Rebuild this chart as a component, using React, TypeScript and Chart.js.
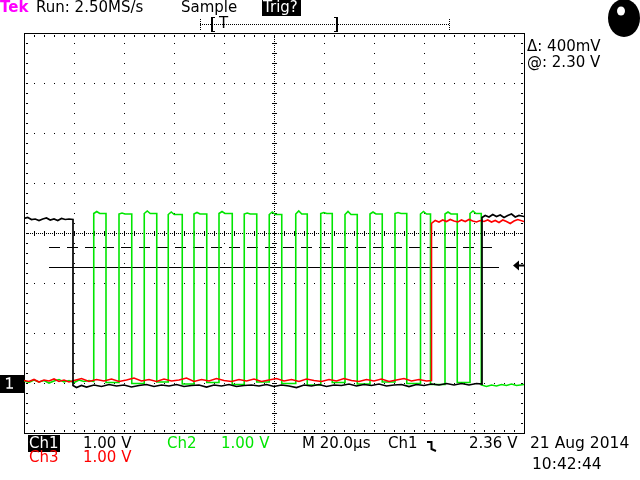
import React, { useEffect, useRef } from "react";
import { Chart, registerables } from "chart.js";
Chart.register(...registerables);

// Time axis in µs (20 µs/div, 10 div), voltage axis in V (1 V/div, 8 div)
const TIME_MIN = 0;
const TIME_MAX = 200;
const VOLT_MIN = -1;
const VOLT_MAX = 7;

const TRIGGER_LEVEL = 2.36;
const CURSOR_LEVELS = [2.3, 2.7];
const CURSOR_SPAN = [10, 190];

// Ch1 (black)
const CH1_TRACE: [number, number][] = [
  [0, 3.28], [1.5, 3.3], [3, 3.26], [4.5, 3.27], [6, 3.24], [7.5, 3.27], [9, 3.29], [10.5, 3.25],
  [12, 3.27], [13.5, 3.24], [15, 3.28], [16.5, 3.26], [18, 3.27], [19.6, 3.26],
  [19.6, -0.06], [21, -0.1], [23, -0.06], [25, -0.09], [28, -0.05], [31, -0.08], [34, -0.04],
  [37, -0.07], [40, -0.05], [43, -0.09], [46, -0.06], [49, -0.04], [52, -0.08], [55, -0.05],
  [58, -0.07], [61, -0.04], [64, -0.08], [67, -0.06], [70, -0.05], [73, -0.09], [76, -0.05],
  [79, -0.07], [82, -0.04], [85, -0.08], [88, -0.06], [91, -0.05], [94, -0.07], [97, -0.04],
  [100, -0.08], [103, -0.05], [106, -0.07], [109, -0.1], [112, -0.05], [115, -0.07], [118, -0.04],
  [121, -0.08], [124, -0.05], [127, -0.06], [130, -0.03], [133, -0.07], [136, -0.04], [139, -0.06],
  [142, -0.03], [145, -0.07], [148, -0.05], [151, -0.04], [154, -0.08], [157, -0.04], [160, -0.06],
  [163, -0.03], [166, -0.05], [169, -0.02], [172, -0.05], [175, -0.02], [178, -0.05], [181, -0.02],
  [183.2, -0.03],
  [183.2, 3.3], [184.5, 3.34], [186, 3.31], [187.5, 3.36], [189, 3.32], [190.5, 3.35], [192, 3.3],
  [193.5, 3.34], [195, 3.37], [196.5, 3.31], [198, 3.34], [200, 3.32],
];

// Ch3 (red)
const CH3_TRACE: [number, number][] = [
  [0, 0.04], [2, 0.02], [4, 0.06], [6, 0.01], [8, 0.05], [10, 0.03], [12, 0.07], [14, 0.02],
  [16, 0.05], [18, 0.01], [20, 0.04], [23, 0.08], [26, 0.02], [29, 0.06], [32, 0.03], [35, 0.07],
  [38, 0.02], [41, 0.05], [44, 0.09], [47, 0.03], [50, 0.06], [53, 0.02], [56, 0.07], [59, 0.03],
  [62, 0.05], [65, 0.09], [68, 0.02], [71, 0.06], [74, 0.03], [77, 0.08], [80, 0.04], [83, 0.02],
  [86, 0.06], [89, 0.03], [92, 0.07], [95, 0.02], [98, 0.05], [101, 0.08], [104, 0.03], [107, 0.06],
  [110, 0.02], [113, 0.07], [116, 0.04], [119, 0.02], [122, 0.06], [125, 0.03], [128, 0.08],
  [131, 0.04], [134, 0.02], [137, 0.06], [140, 0.03], [143, 0.07], [146, 0.02], [149, 0.05],
  [152, 0.08], [155, 0.03], [158, 0.06], [161, 0.03], [163.0, 0.04],
  [163.0, 3.18], [164.5, 3.24], [166, 3.21], [167.5, 3.25], [169, 3.22], [170.5, 3.26], [172, 3.23],
  [173.5, 3.21], [175, 3.25], [176.5, 3.22], [178, 3.26], [179.5, 3.23], [181, 3.21], [182.5, 3.24],
  [184, 3.22], [185.5, 3.25], [187, 3.21], [188.5, 3.24], [190, 3.2], [191.5, 3.25], [193, 3.22],
  [194.5, 3.18], [196, 3.23], [197.5, 3.26], [200, 3.22],
];

// Ch2 (green) pulse train
const CH2_LEAD: [number, number][] = [
  [0, 0.03], [2, 0.0], [4, 0.05], [6, 0.01], [8, 0.04], [10, -0.01], [12, 0.03], [14, 0.06],
  [16, 0.01], [18, 0.04], [20, 0.0], [22, 0.05], [24, 0.02], [26, 0.04],
];
const CH2_RISE = [27.9, 38.0, 48.1, 57.7, 68.0, 78.0, 88.1, 98.1, 108.7, 118.7, 128.4, 138.4, 148.4, 158.6, 168.4, 178.4];
const CH2_FALL = [32.8, 43.1, 53.1, 63.3, 73.1, 83.3, 93.1, 103.1, 113.3, 123.3, 133.3, 143.3, 153.1, 162.6, 173.3, 182.9];
const CH2_HIGH = [3.38, 3.37, 3.38, 3.36, 3.37, 3.38, 3.37, 3.36, 3.37, 3.38, 3.36, 3.37, 3.38, 3.37, 3.37, 3.38];
const CH2_PEAK = [3.42, 3.39, 3.43, 3.41, 3.4, 3.42, 3.39, 3.41, 3.43, 3.4, 3.42, 3.41, 3.4, 3.42, 3.41, 3.43];
const CH2_LOW = [0.02, 0.0, -0.02, 0.01, -0.03, 0.0, -0.04, 0.01, -0.02, -0.05, 0.0, -0.03, 0.01, -0.02, -0.04, 0.0, -0.05];
const CH2_TAIL: [number, number][] = [
  [185, -0.08], [187, -0.05], [189, -0.07], [191, -0.04], [193, -0.06], [195, -0.03], [197, -0.06], [200, -0.04],
];

const GREEN = "#00e600";
const RED = "#ff0000";

function buildCh2() {
  const pts: { x: number; y: number }[] = CH2_LEAD.map(([x, y]) => ({ x, y }));
  CH2_RISE.forEach((r, i) => {
    const f = CH2_FALL[i];
    pts.push(
      { x: r, y: CH2_LOW[i] },
      { x: r, y: CH2_HIGH[i] },
      { x: r + 1.2, y: CH2_PEAK[i] },
      { x: r + 2.4, y: CH2_HIGH[i] },
      { x: f, y: CH2_HIGH[i] },
      { x: f, y: CH2_LOW[i + 1] }
    );
  });
  CH2_TAIL.forEach(([x, y]) => pts.push({ x, y }));
  return pts;
}

function drawGraticule(chart: any) {
  const ctx: CanvasRenderingContext2D = chart.ctx;
  const a = chart.chartArea;
  const L = Math.round(a.left), T = Math.round(a.top), R = Math.round(a.right), B = Math.round(a.bottom);
  const W = R - L, H = B - T;
  const dx = W / 10, dy = H / 8;
  ctx.save();
  ctx.fillStyle = "#000";
  ctx.fillRect(L, T, W + 1, 1);
  ctx.fillRect(L, B, W + 1, 1);
  ctx.fillRect(L, T, 1, H + 1);
  ctx.fillRect(R, T, 1, H + 1);
  for (let x = L + 10; x < R; x += 10) {
    ctx.fillRect(x, T + 2, 1, 2);
    ctx.fillRect(x, B - 3, 1, 2);
  }
  for (let y = T + 10; y < B; y += 10) {
    ctx.fillRect(L + 2, y, 2, 1);
    ctx.fillRect(R - 3, y, 2, 1);
  }
  for (let i = 1; i < 10; i++) {
    if (i === 5) continue;
    const x = Math.round(L + i * dx);
    for (let y = T + 10; y < B; y += 10) ctx.fillRect(x, y, 1, 1);
  }
  for (let j = 1; j < 8; j++) {
    if (j === 4) continue;
    const y = Math.round(T + j * dy);
    for (let x = L + 10; x < R; x += 10) ctx.fillRect(x, y, 1, 1);
  }
  const cx = Math.round(L + 5 * dx), cy = Math.round(T + 4 * dy);
  for (let x = L + 2; x < R; x += 2) ctx.fillRect(x, cy, 1, 1);
  for (let x = L + 10; x < R; x += 10) ctx.fillRect(x, cy - 2, 1, 5);
  for (let y = T + 2; y < B; y += 2) ctx.fillRect(cx, y, 1, 1);
  for (let y = T + 10; y < B; y += 10) ctx.fillRect(cx - 2, y, 5, 1);
  ctx.restore();
}

function drawDecor(chart: any) {
  const ctx: CanvasRenderingContext2D = chart.ctx;
  const a = chart.chartArea;
  const ys = chart.scales.y;
  ctx.save();
  ctx.fillStyle = "#000";
  ctx.strokeStyle = "#000";
  // trigger level arrow
  const ty = Math.round(ys.getPixelForValue(TRIGGER_LEVEL)) + 0.5;
  const tip = Math.round(a.right) - 11;
  ctx.beginPath();
  ctx.moveTo(tip, ty);
  ctx.lineTo(tip + 6, ty - 5);
  ctx.lineTo(tip + 6, ty + 5);
  ctx.closePath();
  ctx.fill();
  ctx.fillRect(tip + 6, ty - 1, 5, 2);
  // ground marker for channels
  const gy = Math.round(ys.getPixelForValue(0));
  ctx.fillRect(0, gy - 8, Math.round(a.left), 18);
  ctx.strokeStyle = "#fff";
  ctx.lineWidth = 1.6;
  ctx.beginPath();
  ctx.moveTo(6, gy - 4);
  ctx.lineTo(9.5, gy - 5);
  ctx.lineTo(9.5, gy + 5);
  ctx.moveTo(6.5, gy + 5);
  ctx.lineTo(13, gy + 5);
  ctx.stroke();
  // record bar at top
  ctx.fillStyle = "#000";
  for (let x = 200; x <= 449; x += 2) ctx.fillRect(x, 24, 1, 1);
  for (let y = 19; y <= 30; y += 2) {
    ctx.fillRect(200, y, 1, 1);
    ctx.fillRect(449, y, 1, 1);
  }
  ctx.fillRect(211, 17, 2, 15);
  ctx.fillRect(211, 17, 4, 1);
  ctx.fillRect(211, 31, 4, 1);
  ctx.fillRect(336, 17, 2, 15);
  ctx.fillRect(334, 17, 4, 1);
  ctx.fillRect(334, 31, 4, 1);
  // status ball
  ctx.beginPath();
  ctx.ellipse(624, 18, 16, 19, 0, 0, Math.PI * 2);
  ctx.fill();
  ctx.fillStyle = "#fff";
  ctx.beginPath();
  ctx.ellipse(621, 11, 4, 4.5, 0, 0, Math.PI * 2);
  ctx.fill();
  // falling-edge symbol
  ctx.strokeStyle = "#000";
  ctx.lineWidth = 2;
  ctx.beginPath();
  ctx.moveTo(427, 442);
  ctx.lineTo(431.5, 442);
  ctx.lineTo(431.5, 449);
  ctx.lineTo(436, 451);
  ctx.stroke();
  ctx.restore();
}

const scopePlugin = {
  id: "scopeDecor",
  beforeDatasetsDraw(chart: any) {
    drawGraticule(chart);
  },
  afterDraw(chart: any) {
    drawDecor(chart);
  },
};

function Label(props: { x: number; y: number; color?: string; bg?: string; size?: number; bold?: boolean; w?: number; children: React.ReactNode }) {
  const { x, y, color = "#000", bg, size = 15, bold, w } = props;
  return (
    <div
      style={{
        position: "absolute",
        left: x,
        top: y,
        color,
        background: bg,
        fontSize: size,
        lineHeight: `${bg ? 17 : size}px`,
        height: bg ? 17 : undefined,
        width: w,
        paddingLeft: bg ? 1 : 0,
        fontWeight: bold ? "bold" : "normal",
        whiteSpace: "pre",
        fontFamily: '"DejaVu Sans", sans-serif',
      }}
    >
      {props.children}
    </div>
  );
}

export default function App() {
  const ref = useRef<HTMLCanvasElement>(null);
  useEffect(() => {
    const cursorData = (v: number) => CURSOR_SPAN.map((x) => ({ x, y: v }));
    const chart = new Chart(ref.current as HTMLCanvasElement, {
      type: "line",
      data: {
        datasets: [
          {
            label: "Ch1",
            data: CH1_TRACE.map(([x, y]) => ({ x, y })),
            borderColor: "#000",
            borderWidth: 1.7,
            order: 1,
          },
          {
            label: "Ch3",
            data: CH3_TRACE.map(([x, y]) => ({ x, y })),
            borderColor: RED,
            borderWidth: 1.6,
            order: 2,
          },
          {
            label: "Ch2",
            data: buildCh2(),
            borderColor: GREEN,
            borderWidth: 1.6,
            order: 3,
          },
          {
            label: "Cursor @",
            data: cursorData(CURSOR_LEVELS[0]),
            borderColor: "#000",
            borderWidth: 1,
            order: 5,
          },
          {
            label: "Cursor Δ",
            data: cursorData(CURSOR_LEVELS[1]),
            borderColor: "#000",
            borderWidth: 1,
            borderDash: [11, 7],
            order: 5,
          },
        ],
      } as any,
      options: {
        animation: false,
        responsive: false,
        devicePixelRatio: 1,
        events: [],
        parsing: false,
        layout: { padding: { left: 24, right: 116, top: 32.5, bottom: 47.5 } },
        elements: { point: { radius: 0 }, line: { tension: 0, fill: false } },
        plugins: { legend: { display: false }, tooltip: { enabled: false } },
        scales: {
          x: { type: "linear", min: TIME_MIN, max: TIME_MAX, display: false },
          y: { type: "linear", min: VOLT_MIN, max: VOLT_MAX, display: false },
        },
      } as any,
      plugins: [scopePlugin],
    });
    return () => chart.destroy();
  }, []);

  return (
    <div style={{ position: "fixed", left: 0, top: 0, width: 640, height: 480, background: "#fff", overflow: "hidden" }}>
      <canvas ref={ref} width={640} height={480} style={{ position: "absolute", left: 0, top: 0, width: 640, height: 480 }} />
      <Label x={0} y={0} color="#ff00ff" bold>Tek</Label>
      <Label x={36} y={0}>Run: 2.50MS/s</Label>
      <Label x={181} y={0}>Sample</Label>
      <Label x={262} y={-1} bg="#000" color="#fff" w={38}>Trig?</Label>
      <Label x={219} y={16}>T</Label>
      <Label x={527} y={39}>Δ: 400mV</Label>
      <Label x={527} y={55}>@: 2.30 V</Label>
      <Label x={28} y={435} bg="#000" color="#fff" w={31}>Ch1</Label>
      <Label x={83} y={436}>1.00 V</Label>
      <Label x={167} y={436} color={GREEN}>Ch2</Label>
      <Label x={221} y={436} color={GREEN}>1.00 V</Label>
      <Label x={302} y={436}>M 20.0µs</Label>
      <Label x={388} y={436}>Ch1</Label>
      <Label x={469} y={436}>2.36 V</Label>
      <Label x={530} y={436} size={15.5}>21 Aug 2014</Label>
      <Label x={29} y={450} color={RED}>Ch3</Label>
      <Label x={83} y={450} color={RED}>1.00 V</Label>
      <Label x={532} y={457} size={15.5}>10:42:44</Label>
    </div>
  );
}
